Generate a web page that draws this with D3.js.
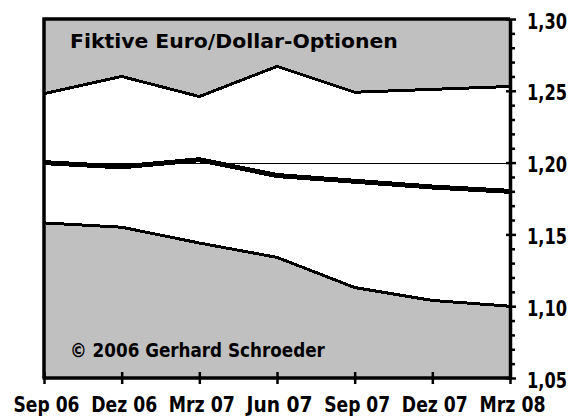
<!DOCTYPE html>
<html>
<head>
<meta charset="utf-8">
<script src="https://cdn.jsdelivr.net/npm/d3@7"></script>
<style>
  body { margin: 0; background: #fff; }
  text { font-family: "Liberation Sans Narrow", "DejaVu Sans Condensed", "Arial Narrow", sans-serif; font-weight: bold; fill: #000; }
</style>
</head>
<body>
<div id="chart"></div>
<script>
// quarterly dates on the x axis
var quarters = ["Sep 06", "Dez 06", "Mrz 07", "Jun 07", "Sep 07", "Dez 07", "Mrz 08"];
// upper option band, forward rate, lower option band
var upperBand = [1.248, 1.260, 1.246, 1.267, 1.249, 1.251, 1.253];
var forward   = [1.200, 1.197, 1.202, 1.191, 1.187, 1.183, 1.180];
var lowerBand = [1.158, 1.155, 1.144, 1.134, 1.113, 1.104, 1.100];
var strike = 1.20;
var yMajor = [1.05, 1.10, 1.15, 1.20, 1.25, 1.30];
var yMinor = [1.06, 1.07, 1.08, 1.09, 1.11, 1.12, 1.13, 1.14, 1.16, 1.17, 1.18, 1.19,
              1.21, 1.22, 1.23, 1.24, 1.26, 1.27, 1.28, 1.29];
var title = "Fiktive Euro/Dollar-Optionen";
var credit = "\u00A9 2006 Gerhard Schroeder";

var width = 572, height = 419;
// plot box (note: "top" is taken by window.top, so prefixed names)
var plotLeft = 44, plotRight = 510, plotTop = 19, plotBottom = 378;
var grey = "#c0c0c0";

var svg = d3.select("#chart").append("svg")
  .attr("width", width)
  .attr("height", height);

var x = d3.scalePoint().domain(quarters).range([plotLeft, plotRight]);
var y = d3.scaleLinear().domain([1.05, 1.30]).range([plotBottom, plotTop]);

var rows = quarters.map(function(q, i) {
  return {q: q, up: upperBand[i], mid: forward[i], low: lowerBand[i]};
});

// squeeze text horizontally to a given width (the original uses a narrow pixel font)
function squeeze(sel, w, tx, ty) {
  sel.attr("x", 0).attr("y", 0).attr("dy", 0)
    .attr("transform", function() {
      var s = w / this.getComputedTextLength();
      return "translate(" + tx + "," + ty + ") scale(" + s + ",1)";
    });
}

// plot background
svg.append("rect")
  .attr("x", plotLeft).attr("y", plotTop)
  .attr("width", plotRight - plotLeft).attr("height", plotBottom - plotTop)
  .style("fill", "#fff");

// grey above the upper band
var upperArea = d3.area()
  .x(function(d) { return x(d.q); })
  .y0(plotTop)
  .y1(function(d) { return y(d.up); });
svg.append("path").datum(rows)
  .attr("d", upperArea)
  .style("fill", grey);

// grey below the lower band
var lowerArea = d3.area()
  .x(function(d) { return x(d.q); })
  .y0(plotBottom)
  .y1(function(d) { return y(d.low); });
svg.append("path").datum(rows)
  .attr("d", lowerArea)
  .style("fill", grey);

// strike line
svg.append("line")
  .attr("x1", plotLeft).attr("x2", plotRight)
  .attr("y1", Math.round(y(strike)) + 0.5).attr("y2", Math.round(y(strike)) + 0.5)
  .style("stroke", "#000")
  .style("stroke-width", 1);

function lineFor(key) {
  return d3.line()
    .x(function(d) { return x(d.q); })
    .y(function(d) { return y(d[key]); });
}

svg.append("path").datum(rows)
  .attr("d", lineFor("mid"))
  .style("fill", "none").style("stroke", "#000").style("stroke-width", 5)
  .attr("shape-rendering", "crispEdges");

["up", "low"].forEach(function(k) {
  svg.append("path").datum(rows)
    .attr("d", lineFor(k))
    .style("fill", "none").style("stroke", "#000").style("stroke-width", 3)
    .attr("shape-rendering", "crispEdges");
});

// frame: top and left
svg.append("path")
  .attr("d", "M" + plotLeft + "," + plotBottom + "V" + plotTop + "H" + plotRight)
  .style("fill", "none").style("stroke", "#000").style("stroke-width", 3.5);

// right axis, minor ticks
var yMinorAxis = d3.axisRight(y).tickValues(yMinor).tickSize(5).tickFormat("");
svg.append("g")
  .attr("transform", "translate(" + plotRight + ",0)")
  .call(yMinorAxis)
  .call(function(g) { g.select(".domain").remove(); })
  .selectAll("line").style("stroke-width", 2.5);

// right axis, major ticks and labels
var yAxis = d3.axisRight(y).tickValues(yMajor).tickSizeInner(6).tickSizeOuter(0)
  .tickPadding(12)
  .tickFormat(function(d) { return d3.format(".2f")(d).replace(".", ","); });
var gy = svg.append("g")
  .attr("transform", "translate(" + plotRight + ",0)")
  .call(yAxis);
gy.select(".domain").style("stroke", "#000").style("stroke-width", 3.5);
gy.selectAll(".tick line").attr("x1", -4).style("stroke-width", 2.5);
gy.selectAll(".tick text")
  .style("font-size", "21px")
  .call(squeeze, 40, 17, 9);

// bottom axis
var xAxis = d3.axisBottom(x).tickSizeInner(6).tickSizeOuter(0).tickPadding(14);
var gx = svg.append("g")
  .attr("transform", "translate(0," + plotBottom + ")")
  .call(xAxis);
gx.select(".domain").style("stroke", "#000").style("stroke-width", 3.5)
  .attr("d", "M" + (plotLeft - 1.5) + ",0H" + (plotRight + 1.5));
gx.selectAll(".tick line").attr("y1", -6).style("stroke-width", 2.5);
gx.selectAll(".tick text")
  .style("font-size", "22px")
  .call(squeeze, 66, 2, 34);

// labels inside the plot
svg.append("text")
  .style("font-size", "20px")
  .text(title)
  .call(squeeze, 328, 70, 48);

svg.append("text")
  .style("font-size", "20px")
  .text(credit)
  .call(squeeze, 255, 70, 357);
</script>
</body>
</html>
